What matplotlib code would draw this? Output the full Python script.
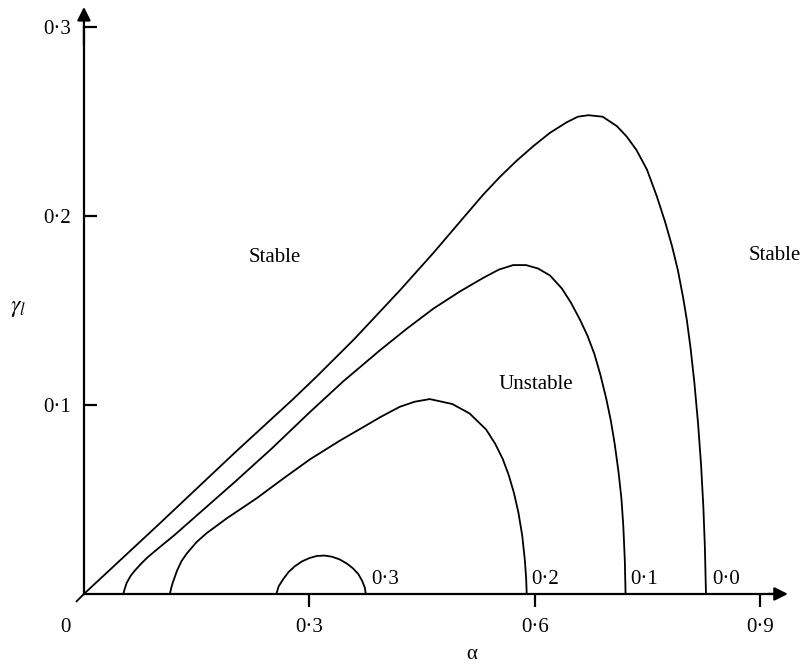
import matplotlib
matplotlib.use("Agg")
import matplotlib.pyplot as plt

plt.rcParams['font.family'] = ['Liberation Serif', 'DejaVu Serif']
plt.rcParams['mathtext.fontset'] = 'stix'

# neutral stability curves (alpha, gamma_l)
alpha_00 = [-0.010, 0.0, 0.100, 0.200, 0.278, 0.310, 0.360, 0.420, 0.465, 0.509, 0.531,
            0.553, 0.575, 0.598, 0.620, 0.642, 0.657, 0.671, 0.690, 0.709, 0.722, 0.735,
            0.749, 0.762, 0.773, 0.782, 0.790, 0.797, 0.802, 0.807, 0.812, 0.817, 0.821,
            0.824, 0.826, 0.8275]
gamma_00 = [-0.004, 0.0, 0.0370, 0.0745, 0.1030, 0.1152, 0.1350, 0.1605, 0.1805, 0.2010, 0.2112,
            0.2205, 0.2290, 0.2370, 0.2440, 0.2495, 0.2525, 0.2533, 0.2525, 0.2475, 0.2420, 0.2349,
            0.2245, 0.2105, 0.1970, 0.1845, 0.1715, 0.1570, 0.1450, 0.1300, 0.1120, 0.0900, 0.0680,
            0.0460, 0.0250, 0.0]

alpha_01 = [0.0523, 0.0545, 0.0568, 0.062, 0.068, 0.076, 0.085, 0.100, 0.120, 0.160, 0.200,
            0.250, 0.300, 0.345, 0.394, 0.430, 0.465, 0.500, 0.531, 0.552, 0.571, 0.588,
            0.604, 0.620, 0.636, 0.648, 0.660, 0.670, 0.679, 0.687, 0.695, 0.701, 0.706,
            0.711, 0.715, 0.7175, 0.7195, 0.7205]
gamma_01 = [0.0, 0.0030, 0.0058, 0.0095, 0.0125, 0.0160, 0.0195, 0.0245, 0.0310, 0.0450, 0.0590,
            0.0770, 0.0960, 0.1125, 0.1290, 0.1405, 0.1510, 0.1600, 0.1672, 0.1716, 0.1740, 0.1740,
            0.1722, 0.1685, 0.1615, 0.1540, 0.1450, 0.1365, 0.1270, 0.1160, 0.1030, 0.0915, 0.0795,
            0.0650, 0.0505, 0.0360, 0.0180, 0.0]

alpha_02 = [0.1144, 0.116, 0.118, 0.124, 0.130, 0.137, 0.150, 0.163, 0.190, 0.2297, 0.265,
            0.3006, 0.340, 0.376, 0.394, 0.420, 0.440, 0.460, 0.490, 0.513, 0.535, 0.547,
            0.557, 0.565, 0.572, 0.578, 0.583, 0.5865, 0.5883, 0.589]
gamma_02 = [0.0, 0.0030, 0.0058, 0.0125, 0.0175, 0.0215, 0.0275, 0.0321, 0.0400, 0.0506, 0.0610,
            0.0712, 0.0810, 0.0893, 0.0935, 0.0990, 0.1017, 0.1031, 0.1005, 0.0955, 0.0870, 0.0795,
            0.0715, 0.0630, 0.0535, 0.0430, 0.0310, 0.0180, 0.0080, 0.0]

alpha_03 = [0.256, 0.259, 0.265, 0.272, 0.280, 0.290, 0.300, 0.310, 0.320, 0.330, 0.340,
            0.350, 0.358, 0.365, 0.370, 0.3735, 0.375]
gamma_03 = [0.0, 0.0040, 0.0078, 0.0115, 0.0145, 0.0172, 0.0190, 0.0201, 0.0203, 0.0197, 0.0183,
            0.0160, 0.0135, 0.0105, 0.0070, 0.0035, 0.0]

curves = [(alpha_00, gamma_00), (alpha_01, gamma_01), (alpha_02, gamma_02), (alpha_03, gamma_03)]

curve_labels = ['0·0', '0·1', '0·2', '0·3']
curve_label_x = [0.8354, 0.7264, 0.5947, 0.3818]

xticks = [0.3, 0.6, 0.9]
xtick_labels = ['0·3', '0·6', '0·9']
yticks = [0.1, 0.2, 0.3]
ytick_labels = ['0·1', '0·2', '0·3']

fig = plt.figure(figsize=(8.03, 6.65), dpi=100)
ax = fig.add_axes([0.0905, 0.0898, 0.894, 0.9038])
ax.set_xlim(-0.015, 0.94)
ax.set_ylim(-0.006, 0.312)

for a, g in curves:
    ax.plot(a, g, color='black', lw=1.3, solid_capstyle='round', solid_joinstyle='round',
            clip_on=False)

for lab, xl in zip(curve_labels, curve_label_x):
    ax.text(xl, 0.0074, lab, fontsize=15, ha='left', va='center')

# axes through the origin with arrow heads
for side in ['top', 'right']:
    ax.spines[side].set_visible(False)
ax.spines['left'].set_position(('data', 0))
ax.spines['bottom'].set_position(('data', 0))
ax.spines['left'].set_bounds(0, 0.30)
ax.spines['bottom'].set_bounds(0, 0.92)
ax.spines['left'].set_linewidth(1.6)
ax.spines['bottom'].set_linewidth(1.6)
ax.annotate('', xy=(0, 0.3106), xytext=(0, 0.29),
            arrowprops=dict(arrowstyle='-|>', color='black', lw=1.6, mutation_scale=20,
                            shrinkA=0, shrinkB=0))
ax.annotate('', xy=(0.9365, 0), xytext=(0.91, 0),
            arrowprops=dict(arrowstyle='-|>', color='black', lw=1.6, mutation_scale=20,
                            shrinkA=0, shrinkB=0))

ax.set_xticks(xticks)
ax.set_xticklabels(xtick_labels)
ax.set_yticks(yticks)
ax.set_yticklabels(ytick_labels)
ax.tick_params(axis='x', direction='out', length=9, width=1.6, labelsize=15, pad=8)
ax.tick_params(axis='y', direction='in', length=9, width=1.6, labelsize=15, pad=9)

ax.text(-0.024, -0.0175, '0', fontsize=15, ha='center', va='center')
ax.text(0.516, -0.032, 'α', fontsize=15, ha='center', va='center')
ax.text(-0.088, 0.151, r'$\gamma_l$', fontsize=17, ha='center', va='center')

ax.text(0.254, 0.178, 'Stable', fontsize=15, ha='center', va='center')
ax.text(0.919, 0.179, 'Stable', fontsize=15, ha='center', va='center')
ax.text(0.601, 0.1106, 'Unstable', fontsize=15, ha='center', va='center')

fig.savefig('out.png', dpi=100)
